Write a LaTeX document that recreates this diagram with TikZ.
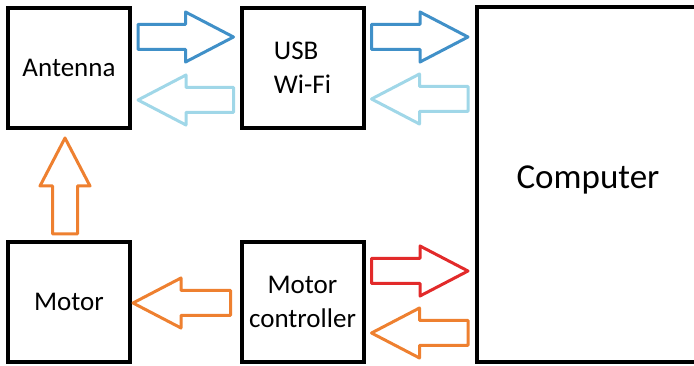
\documentclass[tikz,border=0pt]{standalone}
\usepackage{fontspec}
\setmainfont{Carlito}
\usepackage{tikz}
\usetikzlibrary{calc}

\definecolor{wifiblue}{RGB}{64,144,200}
\definecolor{wifilight}{RGB}{160,215,232}
\definecolor{ctrlred}{RGB}{226,42,42}
\definecolor{ctrlorange}{RGB}{238,128,48}

% outlined block arrow: #1 colour, #2 start, #3 tip
\newcommand{\blockarrow}[3]{%
    \path #2 coordinate (ba-s) #3 coordinate (ba-t);
    \path ($(ba-t)!48pt!(ba-s)$) coordinate (ba-h);
    \draw [arrowline, #1] ($(ba-s)!12.5pt!90:(ba-t)$)
        -- ($(ba-h)!12.5pt!90:(ba-t)$) -- ($(ba-h)!25pt!90:(ba-t)$)
        -- (ba-t)
        -- ($(ba-h)!25pt!-90:(ba-t)$) -- ($(ba-h)!12.5pt!-90:(ba-t)$)
        -- ($(ba-s)!12.5pt!-90:(ba-t)$) -- cycle;}

\begin{document}
\begin{tikzpicture}[x=1pt, y=1pt,
    blk/.style={draw, line width=4pt, inner sep=0pt, minimum width=122pt, minimum height=120pt,
        font=\fontsize{27}{34}\selectfont, align=center},
    arrowline/.style={line width=3pt, line join=round}]
    \useasboundingbox (0,0) rectangle (694,366);
    \node [blk] (antenna) at (69,298) {Antenna};
    \node [blk, align=left] (usb) at (302.5,298) {USB\\Wi-Fi};
    % computer box runs off the right edge
    \node [blk, draw=none, outer sep=0pt, minimum width=260pt, minimum height=355pt] (computer) at (607,181.5) {};
    \draw [line width=4pt] (computer.north east) -- (computer.north west)
        -- (computer.south west) -- (computer.south east);
    \node [font=\fontsize{35}{42}\selectfont] (comptext) at ($(computer.west)+(111,5)$) {Computer};
    \node [blk] (motor) at (69,64) {Motor};
    \node [blk] (ctrl) at (302.5,64) {Motor\\controller};
    \blockarrow{wifiblue}{($(antenna.east)+(6,31)$)}{($(usb.west)+(-6,31)$)}
    \blockarrow{wifilight}{($(usb.west)+(-6,-32)$)}{($(antenna.east)+(6,-32)$)}
    \blockarrow{wifiblue}{($(usb.east)+(6,31)$)}{($(computer.west |- usb.center)+(-9,31)$)}
    \blockarrow{wifilight}{($(computer.west |- usb.center)+(-9,-31)$)}{($(usb.east)+(6,-31)$)}
    \blockarrow{ctrlred}{($(ctrl.east)+(6,31)$)}{($(computer.west |- ctrl.center)+(-9,31)$)}
    \blockarrow{ctrlorange}{($(computer.west |- ctrl.center)+(-9,-31)$)}{($(ctrl.east)+(6,-31)$)}
    \blockarrow{ctrlorange}{($(ctrl.west)+(-9,-1)$)}{($(motor.east)+(1,-1)$)}
    \blockarrow{ctrlorange}{($(motor.north)+(-4,6)$)}{($(antenna.south)+(-4,-8)$)}
\end{tikzpicture}
\end{document}
